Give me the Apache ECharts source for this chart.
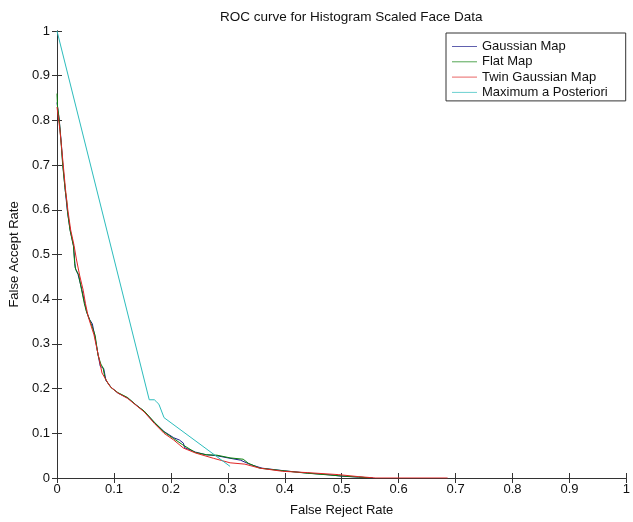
<!DOCTYPE html>
<html>
<head>
<meta charset="utf-8">
<script src="https://cdn.jsdelivr.net/npm/echarts@6/dist/echarts.min.js"></script>
<style>html,body{margin:0;padding:0;background:#fff;}#c{width:633px;height:522px;}</style>
</head>
<body>
<div id="c"></div>
<script>
var seriesNames = ['Gaussian Map', 'Flat Map', 'Twin Gaussian Map', 'Maximum a Posteriori'];
var xTicks = [0, 0.1, 0.2, 0.3, 0.4, 0.5, 0.6, 0.7, 0.8, 0.9, 1];
var yTicks = [0, 0.1, 0.2, 0.3, 0.4, 0.5, 0.6, 0.7, 0.8, 0.9, 1];

var gaussianMap = [[0,0.84],[0.002,0.82],[0.004,0.80],[0.0075,0.75],[0.010,0.705],[0.014,0.65],[0.018,0.6],[0.023,0.555],[0.029,0.52],[0.032,0.47],[0.037,0.455],[0.043,0.425],[0.052,0.372],[0.057,0.355],[0.062,0.345],[0.066,0.32],[0.072,0.277],[0.076,0.25],[0.082,0.245],[0.086,0.218],[0.095,0.203],[0.107,0.19],[0.124,0.179],[0.153,0.149],[0.171,0.124],[0.188,0.104],[0.205,0.09],[0.215,0.085],[0.222,0.078],[0.224,0.068],[0.243,0.058],[0.262,0.052],[0.28,0.05],[0.3,0.045],[0.322,0.04],[0.34,0.03],[0.36,0.022],[0.4,0.016],[0.44,0.011],[0.48,0.007],[0.5,0.004],[0.53,0.002],[0.555,0]];

var flatMap = [[0,0.86],[0.001,0.83],[0.002,0.822],[0.004,0.80],[0.0075,0.745],[0.010,0.70],[0.0145,0.643],[0.017,0.62],[0.019,0.59],[0.023,0.554],[0.029,0.518],[0.031,0.48],[0.033,0.466],[0.038,0.455],[0.043,0.422],[0.048,0.39],[0.052,0.371],[0.058,0.352],[0.061,0.349],[0.064,0.33],[0.067,0.319],[0.072,0.275],[0.077,0.255],[0.081,0.246],[0.084,0.225],[0.087,0.217],[0.095,0.202],[0.107,0.191],[0.124,0.18],[0.14,0.162],[0.153,0.150],[0.171,0.125],[0.188,0.103],[0.205,0.088],[0.22,0.075],[0.243,0.057],[0.262,0.052],[0.281,0.051],[0.304,0.045],[0.327,0.042],[0.336,0.033],[0.356,0.022],[0.391,0.017],[0.437,0.011],[0.495,0.005],[0.53,0.002],[0.553,0]];

var twinGaussianMap = [[0,0.83],[0.002,0.81],[0.005,0.78],[0.008,0.74],[0.011,0.70],[0.015,0.645],[0.019,0.60],[0.024,0.555],[0.030,0.52],[0.034,0.49],[0.040,0.452],[0.046,0.42],[0.050,0.39],[0.055,0.36],[0.060,0.34],[0.065,0.32],[0.070,0.29],[0.075,0.26],[0.079,0.235],[0.085,0.222],[0.093,0.205],[0.107,0.19],[0.124,0.178],[0.153,0.148],[0.171,0.122],[0.188,0.1],[0.205,0.085],[0.222,0.067],[0.243,0.056],[0.275,0.044],[0.304,0.034],[0.33,0.031],[0.356,0.022],[0.396,0.015],[0.44,0.012],[0.495,0.0075],[0.53,0.003],[0.56,0],[0.686,0]];

var maxAPosteriori = [[0,1],[0.162,0.175],[0.171,0.175],[0.175,0.17],[0.179,0.165],[0.188,0.135],[0.304,0.026]];

var colors = ['#1c1c8c', '#0a800a', '#e02424', '#2cbcbc'];
var FONT = 'Liberation Sans, Arial, sans-serif';
var FS = 13;

function mkX(pos, show) {
  return {
    type: 'value', position: pos, min: 0, max: 1, interval: 0.1,
    axisLine: { show: true, lineStyle: { color: '#333', width: 1 } },
    axisTick: { show: true, inside: true, length: 5, lineStyle: { color: '#333' } },
    axisLabel: { show: show, color: '#111', fontSize: FS, fontFamily: FONT, margin: 5 },
    splitLine: { show: false },
    name: show ? 'False Reject Rate' : '', nameLocation: 'middle', nameGap: 26,
    nameTextStyle: { color: '#111', fontSize: FS, fontFamily: FONT }
  };
}
function mkY(pos, show) {
  return {
    type: 'value', position: pos, min: 0, max: 1, interval: 0.1,
    axisLine: { show: true, lineStyle: { color: '#333', width: 1 } },
    axisTick: { show: true, inside: true, length: 5, lineStyle: { color: '#333' } },
    axisLabel: { show: show, color: '#111', fontSize: FS, fontFamily: FONT, margin: 7 },
    splitLine: { show: false },
    name: show ? 'False Accept Rate' : '', nameLocation: 'middle', nameGap: 36,
    nameTextStyle: { color: '#111', fontSize: FS, fontFamily: FONT }
  };
}

var dataSets = [gaussianMap, flatMap, twinGaussianMap, maxAPosteriori];
var series = dataSets.map(function (d, i) {
  return {
    name: seriesNames[i], type: 'line', data: d, symbol: 'none', showSymbol: false,
    xAxisIndex: 0, yAxisIndex: 0, animation: false,
    lineStyle: { color: colors[i], width: 1 }, itemStyle: { color: colors[i] }
  };
});

var chart = echarts.init(document.getElementById('c'));
chart.setOption({
  backgroundColor: '#fff',
  animation: false,
  title: {
    text: 'ROC curve for Histogram Scaled Face Data',
    left: 215, top: 5,
    textStyle: { fontSize: 13.5, fontWeight: 'normal', color: '#111', fontFamily: FONT }
  },
  grid: { left: 55, right: 2, top: 31, bottom: 37 },
  xAxis: [mkX('bottom', true), mkX('top', false)],
  yAxis: [mkY('left', true), mkY('right', false)],
  legend: {
    orient: 'vertical', left: 446, top: 33,
    data: seriesNames.map(function (n, i) {
      return { name: n, icon: 'path://M0,7 L25,7 L25,8 L0,8 Z', itemStyle: { color: colors[i], opacity: 0.7 } };
    }),
    backgroundColor: '#fff', borderColor: '#333', borderWidth: 1,
    padding: [7, 18, 2, 6],
    itemWidth: 25, itemHeight: 14, itemGap: 2.3,
    textStyle: { fontSize: FS, color: '#111', fontFamily: FONT }
  },
  series: series
});
</script>
</body>
</html>
